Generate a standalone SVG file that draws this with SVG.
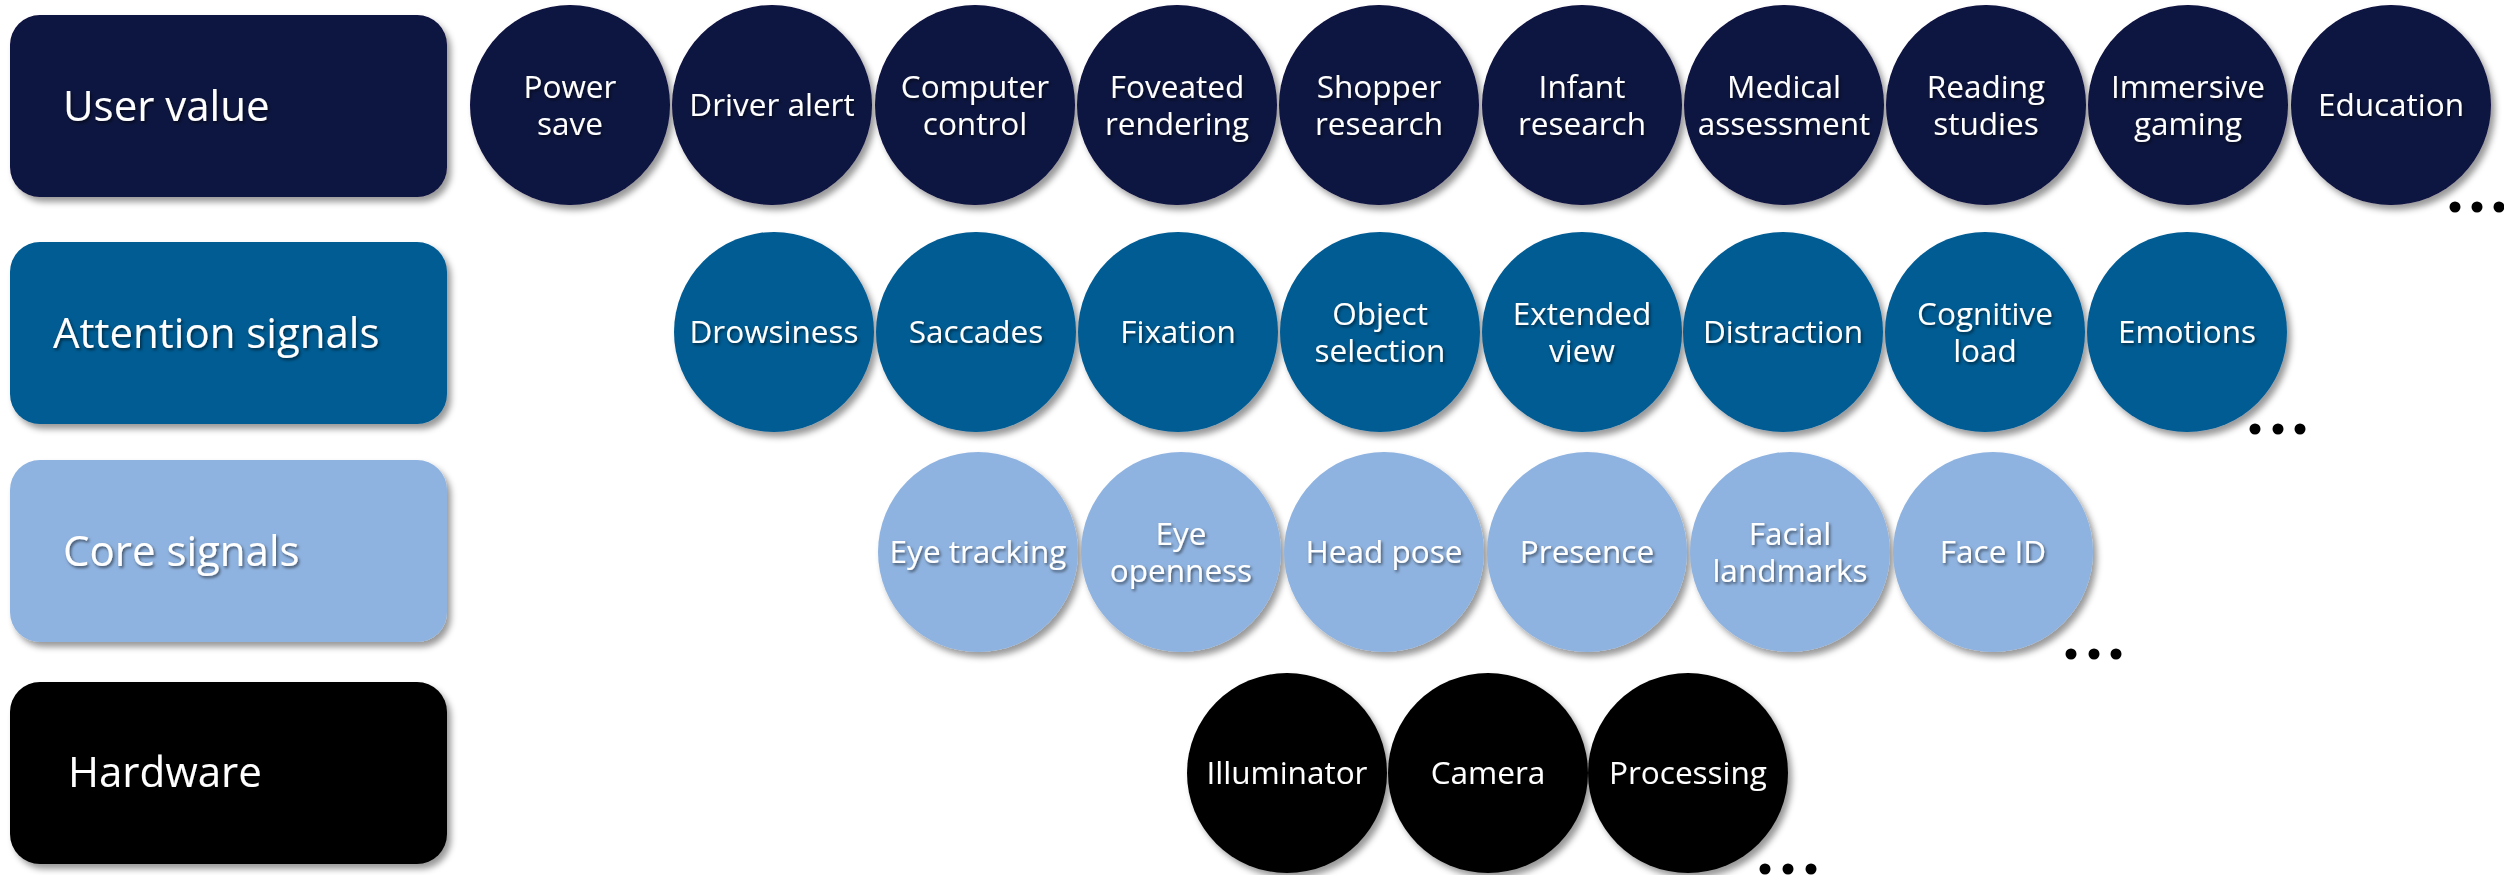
<svg xmlns="http://www.w3.org/2000/svg" width="2504" height="875" viewBox="0 0 2504 875">
<defs>
<filter id="sh" x="-10%" y="-10%" width="125%" height="125%">
<feDropShadow dx="4" dy="5" stdDeviation="3" flood-color="#000" flood-opacity="0.4"/>
</filter>
<filter id="tsh" x="-10%" y="-30%" width="120%" height="160%">
<feDropShadow dx="1.5" dy="2" stdDeviation="1.5" flood-color="#000" flood-opacity="0.55"/>
</filter>
</defs>
<style>
.box{filter:url(#sh)}
.c{filter:url(#sh)}
.uv{fill:#111240}
.at{fill:#035B93}
.co{fill:#8FB3E0}
.hw{fill:#000000}
.bl{font-family:"Open Sans","Liberation Sans",sans-serif;font-size:42px;fill:#fff;filter:url(#tsh)}
.t{font-family:"Open Sans","Liberation Sans",sans-serif;font-size:31.5px;fill:#fff;text-anchor:middle;filter:url(#tsh)}
.dot{fill:#000}
</style>
<rect width="2504" height="875" fill="#fff"/>

<g id="row-user-value">
<g id="box-user-value"><rect class="box uv" x="10" y="15" width="437" height="182" rx="30"/><text class="bl" x="63" y="121">User value</text></g>
<g id="n-power-save"><circle class="c uv" cx="570" cy="105" r="100"/><text class="t" x="570" y="98">Power</text><text class="t" x="570" y="135">save</text></g>
<g id="n-driver-alert"><circle class="c uv" cx="772" cy="105" r="100"/><text class="t" x="772" y="116">Driver alert</text></g>
<g id="n-computer-control"><circle class="c uv" cx="975" cy="105" r="100"/><text class="t" x="975" y="98">Computer</text><text class="t" x="975" y="135">control</text></g>
<g id="n-foveated-rendering"><circle class="c uv" cx="1177" cy="105" r="100"/><text class="t" x="1177" y="98">Foveated</text><text class="t" x="1177" y="135">rendering</text></g>
<g id="n-shopper-research"><circle class="c uv" cx="1379" cy="105" r="100"/><text class="t" x="1379" y="98">Shopper</text><text class="t" x="1379" y="135">research</text></g>
<g id="n-infant-research"><circle class="c uv" cx="1582" cy="105" r="100"/><text class="t" x="1582" y="98">Infant</text><text class="t" x="1582" y="135">research</text></g>
<g id="n-medical-assessment"><circle class="c uv" cx="1784" cy="105" r="100"/><text class="t" x="1784" y="98">Medical</text><text class="t" x="1784" y="135">assessment</text></g>
<g id="n-reading-studies"><circle class="c uv" cx="1986" cy="105" r="100"/><text class="t" x="1986" y="98">Reading</text><text class="t" x="1986" y="135">studies</text></g>
<g id="n-immersive-gaming"><circle class="c uv" cx="2188" cy="105" r="100"/><text class="t" x="2188" y="98">Immersive</text><text class="t" x="2188" y="135">gaming</text></g>
<g id="n-education"><circle class="c uv" cx="2391" cy="105" r="100"/><text class="t" x="2391" y="116">Education</text></g>
<g id="more-user-value"><circle class="dot" cx="2455" cy="207" r="5.5"/><circle class="dot" cx="2477" cy="207" r="5.5"/><circle class="dot" cx="2499" cy="207" r="5.5"/></g>
</g>

<g id="row-attention">
<g id="box-attention-signals"><rect class="box at" x="10" y="242" width="437" height="182" rx="30"/><text class="bl" x="53" y="348">Attention signals</text></g>
<g id="n-drowsiness"><circle class="c at" cx="774" cy="332" r="100"/><text class="t" x="774" y="343">Drowsiness</text></g>
<g id="n-saccades"><circle class="c at" cx="976" cy="332" r="100"/><text class="t" x="976" y="343">Saccades</text></g>
<g id="n-fixation"><circle class="c at" cx="1178" cy="332" r="100"/><text class="t" x="1178" y="343">Fixation</text></g>
<g id="n-object-selection"><circle class="c at" cx="1380" cy="332" r="100"/><text class="t" x="1380" y="325">Object</text><text class="t" x="1380" y="362">selection</text></g>
<g id="n-extended-view"><circle class="c at" cx="1582" cy="332" r="100"/><text class="t" x="1582" y="325">Extended</text><text class="t" x="1582" y="362">view</text></g>
<g id="n-distraction"><circle class="c at" cx="1783" cy="332" r="100"/><text class="t" x="1783" y="343">Distraction</text></g>
<g id="n-cognitive-load"><circle class="c at" cx="1985" cy="332" r="100"/><text class="t" x="1985" y="325">Cognitive</text><text class="t" x="1985" y="362">load</text></g>
<g id="n-emotions"><circle class="c at" cx="2187" cy="332" r="100"/><text class="t" x="2187" y="343">Emotions</text></g>
<g id="more-attention"><circle class="dot" cx="2255" cy="429" r="5.5"/><circle class="dot" cx="2278" cy="429" r="5.5"/><circle class="dot" cx="2300" cy="429" r="5.5"/></g>
</g>

<g id="row-core">
<g id="box-core-signals"><rect class="box co" x="10" y="460" width="437" height="182" rx="30"/><text class="bl" x="63" y="566">Core signals</text></g>
<g id="n-eye-tracking"><circle class="c co" cx="978" cy="552" r="100"/><text class="t" x="978" y="563">Eye tracking</text></g>
<g id="n-eye-openness"><circle class="c co" cx="1181" cy="552" r="100"/><text class="t" x="1181" y="545">Eye</text><text class="t" x="1181" y="582">openness</text></g>
<g id="n-head-pose"><circle class="c co" cx="1384" cy="552" r="100"/><text class="t" x="1384" y="563">Head pose</text></g>
<g id="n-presence"><circle class="c co" cx="1587" cy="552" r="100"/><text class="t" x="1587" y="563">Presence</text></g>
<g id="n-facial-landmarks"><circle class="c co" cx="1790" cy="552" r="100"/><text class="t" x="1790" y="545">Facial</text><text class="t" x="1790" y="582">landmarks</text></g>
<g id="n-face-id"><circle class="c co" cx="1993" cy="552" r="100"/><text class="t" x="1993" y="563">Face ID</text></g>
<g id="more-core"><circle class="dot" cx="2071" cy="654" r="5.5"/><circle class="dot" cx="2094" cy="654" r="5.5"/><circle class="dot" cx="2116" cy="654" r="5.5"/></g>
</g>

<g id="row-hardware">
<g id="box-hardware"><rect class="box hw" x="10" y="682" width="437" height="182" rx="30"/><text class="bl" x="68" y="787">Hardware</text></g>
<g id="n-illuminator"><circle class="c hw" cx="1287" cy="773" r="100"/><text class="t" x="1287" y="784">Illuminator</text></g>
<g id="n-camera"><circle class="c hw" cx="1488" cy="773" r="100"/><text class="t" x="1488" y="784">Camera</text></g>
<g id="n-processing"><circle class="c hw" cx="1688" cy="773" r="100"/><text class="t" x="1688" y="784">Processing</text></g>
<g id="more-hardware"><circle class="dot" cx="1765" cy="869" r="5.5"/><circle class="dot" cx="1788" cy="869" r="5.5"/><circle class="dot" cx="1811" cy="869" r="5.5"/></g>
</g>

<g id="connectors"></g>
</svg>
